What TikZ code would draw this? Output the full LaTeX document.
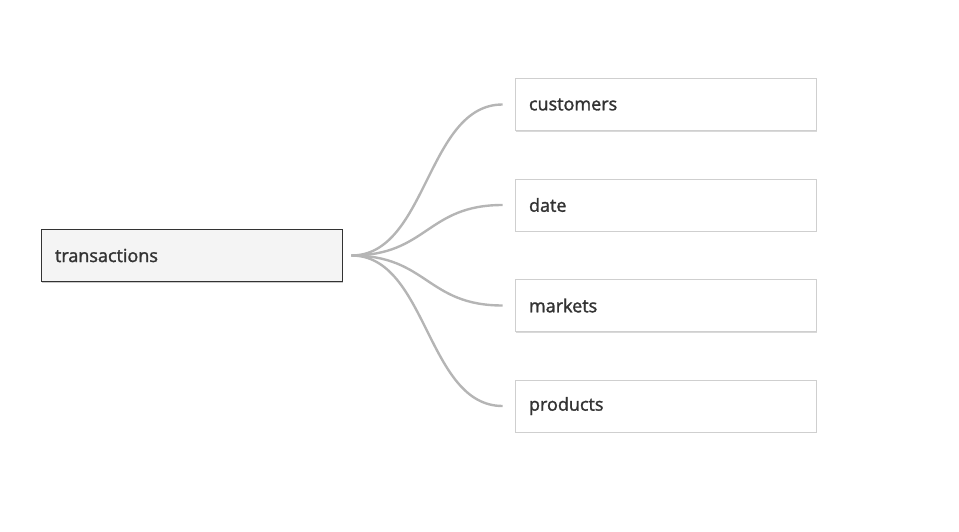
\documentclass[tikz,border=0pt]{standalone}
\usepackage{fontspec}
\setmainfont{Open Sans}[FakeBold=1.6]
\usetikzlibrary{shadows}
\definecolor{linegray}{HTML}{B5B5B5}
\definecolor{boxline}{HTML}{CFCFCF}
\definecolor{rootfill}{HTML}{F4F4F4}
\definecolor{textgray}{HTML}{333333}

\begin{document}
\begin{tikzpicture}
[x=1pt, y=-1pt,
rootnode/.style={rectangle, draw=textgray, fill=rootfill, line width=0.9pt, text width=273pt, inner xsep=14pt, minimum height=52pt, align=left, font=\fontsize{18}{21}\selectfont, text=textgray, drop shadow={shadow xshift=1.2pt, shadow yshift=-1.2pt, fill=black!35, opacity=0.6}},
tablenode/.style={rectangle, draw=boxline, fill=white, line width=0.9pt, text width=273pt, inner xsep=14pt, minimum height=52pt, align=left, font=\fontsize{18}{21}\selectfont, text=textgray, drop shadow={shadow xshift=1.2pt, shadow yshift=-1.2pt, fill=black!25, opacity=0.6}},
link/.style={draw=linegray, line width=2.4pt},
]
\useasboundingbox (0,0) rectangle (959,532);

\node[rootnode]  (trans) at (191.5,255.5) {transactions};
\node[tablenode] (cust)  at (665.5,104.5) {customers};
\node[tablenode] (date)  at (665.5,205) {date};
\node[tablenode] (mark)  at (665.5,305.5) {markets};
\node[tablenode] (prod)  at (665.5,406) {products};

\coordinate (hub) at ([xshift=9pt]trans.east);

\draw[link] (hub) .. controls +(76,0) and +(-76,0) .. ([xshift=-12pt]cust.west);
\draw[link] (hub) .. controls +(76,0) and +(-76,0) .. ([xshift=-12pt]date.west);
\draw[link] (hub) .. controls +(76,0) and +(-76,0) .. ([xshift=-12pt]mark.west);
\draw[link] (hub) .. controls +(76,0) and +(-76,0) .. ([xshift=-12pt]prod.west);
\end{tikzpicture}
\end{document}
